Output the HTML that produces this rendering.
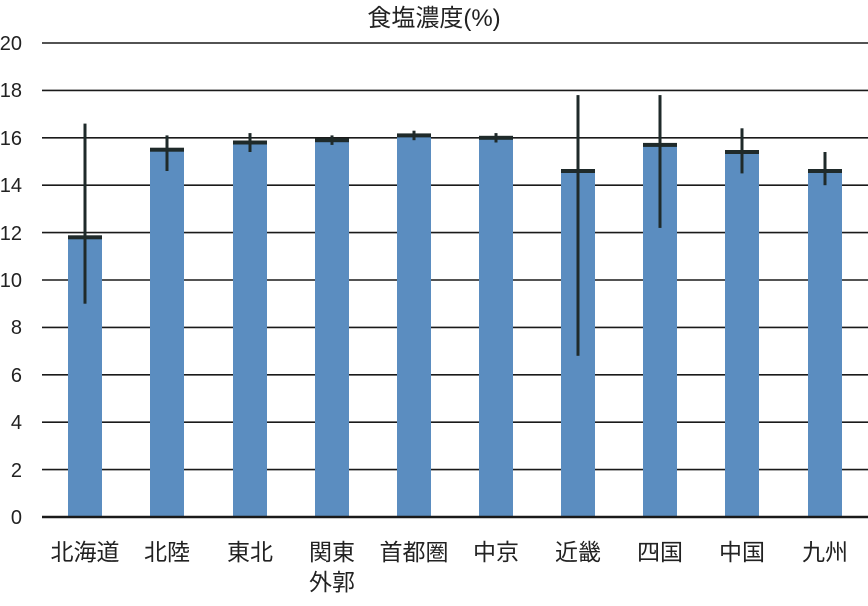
<!DOCTYPE html>
<html><head><meta charset="utf-8"><style>
html,body{margin:0;padding:0;background:#fff;}
svg text{font-family:"Liberation Sans","Noto Sans CJK JP",sans-serif;fill:#222;}
</style></head><body>
<svg width="868" height="601" viewBox="0 0 868 601" xmlns="http://www.w3.org/2000/svg">
<rect width="868" height="601" fill="#fff"/>
<text x="434" y="26" font-size="24" text-anchor="middle">食塩濃度(%)</text>
<g stroke="#1a1a1a" stroke-width="1.6">
<line x1="42" x2="868" y1="43" y2="43"/><line x1="42" x2="868" y1="90.4" y2="90.4"/>
<line x1="42" x2="868" y1="137.8" y2="137.8"/><line x1="42" x2="868" y1="185.2" y2="185.2"/>
<line x1="42" x2="868" y1="232.6" y2="232.6"/><line x1="42" x2="868" y1="280" y2="280"/>
<line x1="42" x2="868" y1="327.4" y2="327.4"/><line x1="42" x2="868" y1="374.8" y2="374.8"/>
<line x1="42" x2="868" y1="422.2" y2="422.2"/><line x1="42" x2="868" y1="469.6" y2="469.6"/>
</g>
<g font-size="20" text-anchor="end">
<text x="22" y="50">20</text><text x="22" y="97">18</text><text x="22" y="145">16</text>
<text x="22" y="192">14</text><text x="22" y="240">12</text><text x="22" y="287">10</text>
<text x="22" y="334">8</text><text x="22" y="382">6</text><text x="22" y="429">4</text>
<text x="22" y="477">2</text><text x="22" y="524">0</text>
</g>
<g fill="#5b8dc0">
<rect x="68" y="237.3" width="34" height="279.7"/>
<rect x="150" y="149.7" width="34" height="367.3"/>
<rect x="233" y="142.5" width="34" height="374.5"/>
<rect x="315" y="140.2" width="34" height="376.8"/>
<rect x="397" y="135.4" width="34" height="381.6"/>
<rect x="479" y="137.8" width="34" height="379.2"/>
<rect x="561" y="171" width="34" height="346"/>
<rect x="643" y="144.9" width="34" height="372.1"/>
<rect x="725" y="152" width="34" height="365"/>
<rect x="808" y="171" width="34" height="346"/>
</g>
<g fill="#1f2a2a">
<rect x="68" y="235.3" width="34" height="4"/>
<rect x="150" y="147.7" width="34" height="4"/>
<rect x="233" y="140.5" width="34" height="4"/>
<rect x="315" y="138.2" width="34" height="4"/>
<rect x="397" y="133.4" width="34" height="4"/>
<rect x="479" y="135.8" width="34" height="4"/>
<rect x="561" y="169" width="34" height="4"/>
<rect x="643" y="142.9" width="34" height="4"/>
<rect x="725" y="150" width="34" height="4"/>
<rect x="808" y="169" width="34" height="4"/>
<rect x="83.5" y="123.6" width="3" height="180.1"/>
<rect x="165.5" y="135.4" width="3" height="35.6"/>
<rect x="248.5" y="133.1" width="3" height="18.9"/>
<rect x="330.5" y="135.4" width="3" height="9.5"/>
<rect x="412.5" y="130.7" width="3" height="9.5"/>
<rect x="494.5" y="133.1" width="3" height="9.4"/>
<rect x="576.5" y="95.1" width="3" height="260.7"/>
<rect x="658.5" y="95.1" width="3" height="132.8"/>
<rect x="740.5" y="128.3" width="3" height="45.1"/>
<rect x="823.5" y="152" width="3" height="33.2"/>
</g>
<line x1="42" x2="868" y1="517" y2="517" stroke="#1a1a1a" stroke-width="2.5"/>
<g font-size="23" text-anchor="middle">
<text x="85" y="560">北海道</text><text x="167" y="560">北陸</text><text x="250" y="560">東北</text>
<text x="332" y="560">関東</text><text x="332" y="590">外郭</text><text x="414" y="560">首都圏</text>
<text x="496" y="560">中京</text><text x="578" y="560">近畿</text><text x="660" y="560">四国</text>
<text x="742" y="560">中国</text><text x="825" y="560">九州</text>
</g>
</svg>
</body></html>
